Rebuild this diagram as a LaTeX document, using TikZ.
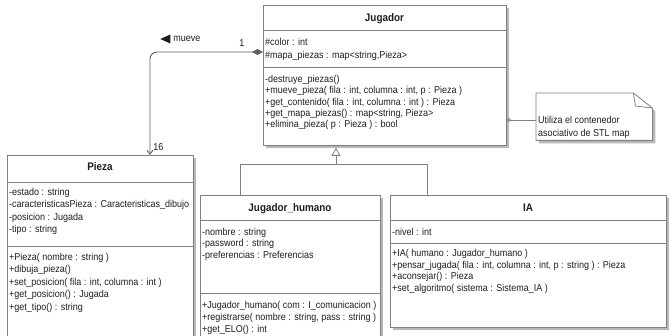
\documentclass[tikz,border=0pt]{standalone}
\usepackage{fontspec}
\setmainfont{Liberation Sans}[FakeStretch=0.9]
\usepackage{xcolor}
\usetikzlibrary{positioning,arrows.meta,shadows}
\definecolor{UmlLine}{HTML}{808080}
\definecolor{UmlDark}{HTML}{5F5F5F}
\definecolor{UmlShadow}{HTML}{B8B8B8}
\definecolor{UmlText}{HTML}{1E1E1E}

\begin{document}
\begin{tikzpicture}[
    x=1pt, y=-1pt,
    every node/.style={
        inner sep=0pt,
        text=UmlText,
        font=\fontsize{10}{12}\selectfont
    },
    classbox/.style={
        draw=UmlLine,
        fill=white,
        line width=0.8pt,
        anchor=north west,
        drop shadow={shadow xshift=3pt, shadow yshift=-3pt, fill=UmlShadow, opacity=1}
    },
    classname/.style={
        anchor=base,
        font=\bfseries\fontsize{11}{13}\selectfont
    },
    member/.style={anchor=base west},
    sepline/.style={draw=UmlLine, line width=0.8pt},
    genline/.style={draw=UmlLine, line width=0.8pt},
    assocline/.style={draw=UmlDark, line width=0.9pt}
]
\useasboundingbox (0,0) rectangle (670,336);
\clip (0,0) rectangle (670,336);

% Jugador
\node[classbox, minimum width=243pt, minimum height=140pt] (jugador) at (263,5) {};
\draw[sepline] ([yshift=-25pt]jugador.north west) -- ([yshift=-25pt]jugador.north east);
\draw[sepline] ([yshift=-62pt]jugador.north west) -- ([yshift=-62pt]jugador.north east);
\node[classname] (jugadorName) at (384.5,21.5) {Jugador};
\node[member] (jugadorA1) at (265,45.5) {\#color : int};
\node[member] (jugadorA2) at (265,58.5) {\#mapa\_piezas : map<string,Pieza>};
\node[member] (jugadorM1) at (265,82.5) {-destruye\_piezas()};
\node[member] (jugadorM2) at (265,93.8) {+mueve\_pieza( fila : int, columna : int, p : Pieza )};
\node[member] (jugadorM3) at (265,105.1) {+get\_contenido( fila : int, columna : int ) : Pieza};
\node[member] (jugadorM4) at (265,116.4) {+get\_mapa\_piezas() : map<string, Pieza>};
\node[member] (jugadorM5) at (265,127.7) {+elimina\_pieza( p : Pieza ) : bool};

% Pieza
\node[classbox, minimum width=186pt, minimum height=200pt] (pieza) at (7,155) {};
\draw[sepline] ([yshift=-27pt]pieza.north west) -- ([yshift=-27pt]pieza.north east);
\draw[sepline] ([yshift=-91pt]pieza.north west) -- ([yshift=-91pt]pieza.north east);
\node[classname] (piezaName) at (100,171) {Pieza};
\node[member] (piezaA1) at (9,195.5) {-estado : string};
\node[member] (piezaA2) at (9,208) {-caracteristicasPieza : Caracteristicas\_dibujo};
\node[member] (piezaA3) at (9,220.5) {-posicion : Jugada};
\node[member] (piezaA4) at (9,233) {-tipo : string};
\node[member] (piezaM1) at (9,260.5) {+Pieza( nombre : string )};
\node[member] (piezaM2) at (9,273) {+dibuja\_pieza()};
\node[member] (piezaM3) at (9,285.5) {+set\_posicion( fila : int, columna : int )};
\node[member] (piezaM4) at (9,298) {+get\_posicion() : Jugada};
\node[member] (piezaM5) at (9,310.5) {+get\_tipo() : string};

% Jugador_humano
\node[classbox, minimum width=180pt, minimum height=160pt] (humano) at (200,195) {};
\draw[sepline] ([yshift=-25pt]humano.north west) -- ([yshift=-25pt]humano.north east);
\draw[sepline] ([yshift=-98pt]humano.north west) -- ([yshift=-98pt]humano.north east);
\node[classname] (humanoName) at (290,211.5) {Jugador\_humano};
\node[member] (humanoA1) at (202,235.5) {-nombre : string};
\node[member] (humanoA2) at (202,247) {-password : string};
\node[member] (humanoA3) at (202,258.5) {-preferencias : Preferencias};
\node[member] (humanoM1) at (202,308.5) {+Jugador\_humano( com : I\_comunicacion )};
\node[member] (humanoM2) at (202,320.5) {+registrarse( nombre : string, pass : string )};
\node[member] (humanoM3) at (202,332.5) {+get\_ELO() : int};

% IA
\node[classbox, minimum width=276pt, minimum height=132pt] (ia) at (390,195) {};
\draw[sepline] ([yshift=-25pt]ia.north west) -- ([yshift=-25pt]ia.north east);
\draw[sepline] ([yshift=-48pt]ia.north west) -- ([yshift=-48pt]ia.north east);
\node[classname] (iaName) at (528,211.5) {IA};
\node[member] (iaA1) at (392,235.5) {-nivel : int};
\node[member] (iaM1) at (392,256.5) {+IA( humano : Jugador\_humano )};
\node[member] (iaM2) at (392,268.5) {+pensar\_jugada( fila : int, columna : int, p : string ) : Pieza};
\node[member] (iaM3) at (392,280) {+aconsejar() : Pieza};
\node[member] (iaM4) at (392,291.5) {+set\_algoritmo( sistema : Sistema\_IA )};

% nota
\node[anchor=north west, minimum width=116pt, minimum height=47pt] (nota) at (536,93) {};
\draw[sepline, fill=white, drop shadow={shadow xshift=3pt, shadow yshift=-3pt, fill=UmlShadow, opacity=1}]
    (nota.north west) -- ([xshift=-19pt]nota.north east) -- ([yshift=-15pt]nota.north east)
    -- (nota.south east) -- (nota.south west) -- cycle;
\draw[sepline] ([xshift=-19pt]nota.north east) -- ([xshift=-17pt,yshift=-13pt]nota.north east)
    -- ([yshift=-15pt]nota.north east);
\node[member] (notaL1) at (538,123.5) {Utiliza el contenedor};
\node[member] (notaL2) at (538,136.5) {asociativo de STL map};
\draw[sepline, {Circle[open, length=4pt, width=4pt]}-] (jugador.east |- notaL1) -- (nota.west |- notaL1);

% herencia
\coordinate (genMid) at (336,164);
\coordinate (genLeft) at (240,164);
\coordinate (genRight) at (427,164);
\draw[genline] (genLeft |- humano.north) -- (genLeft) -- (genRight) -- (genRight |- ia.north);
\draw[genline, -{Triangle[length=8pt, width=9pt, fill=white]}] (genMid) -- ([yshift=-2pt]genMid |- jugador.south);

% asociacion
\coordinate (assocBend) at (150,52);
\draw[assocline, {Diamond[length=11pt, width=6pt, fill=UmlDark]}-{Straight Barb[length=4pt, width=6pt]}, rounded corners=7pt]
    (assocBend -| jugador.west) -- (assocBend) -- (assocBend |- pieza.north);
\node (multJugador) at (242,43) {1};
\node (multPieza) at (158.5,147) {16};
\node (mueve) at (187,39) {mueve};
\fill[UmlText] ([xshift=-3pt, yshift=4.5pt]mueve.west) -- ([xshift=-3pt, yshift=-4.5pt]mueve.west)
    -- ([xshift=-13pt]mueve.west) -- cycle;

\end{tikzpicture}
\end{document}
